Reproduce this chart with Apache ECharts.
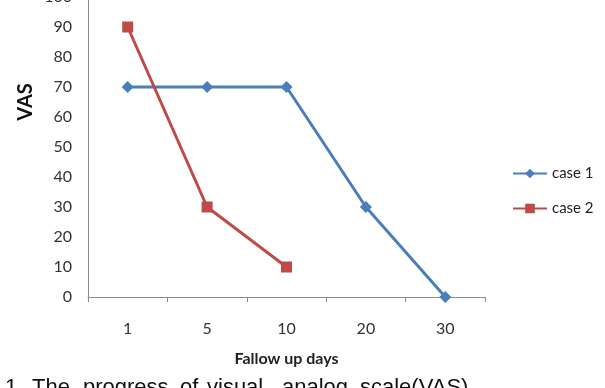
<!DOCTYPE html>
<html><head><meta charset="utf-8">
<script src="https://cdn.jsdelivr.net/npm/echarts@6/dist/echarts.min.js"></script>
<style>html,body{margin:0;padding:0;background:#fff}#c{width:605px;height:388px}</style>
</head><body><div id="c"></div>
<script>
var categories = ['1', '5', '10', '20', '30'];
var case1 = [70, 70, 70, 30, 0];
var case2 = [90, 30, 10, null, null];
var seriesNames = ['case 1', 'case 2'];
var captionWords = ['1.', 'The', 'progress', 'of', 'visual', 'analog', 'scale(VAS)'];
var captionX = [5, 32, 83, 180, 207, 282, 360];

var font = 'Lato, "Open Sans", sans-serif';
var chart = echarts.init(document.getElementById('c'), null, {renderer: 'canvas'});
var graphics = [{
  type: 'text', x: 26, y: 102, rotation: Math.PI / 2,
  style: {text: 'VAS', font: 'bold 20px ' + font, fill: '#111', align: 'center', verticalAlign: 'middle'}
}];
captionWords.forEach(function (w, i) {
  graphics.push({type: 'text', x: captionX[i], y: 377,
    style: {text: w, font: '22px "Liberation Sans", Arial, sans-serif', fill: '#111', align: 'left', verticalAlign: 'top'}});
});
chart.setOption({
  animation: false,
  backgroundColor: '#fff',
  grid: {left: 88, right: 120, height: 300, bottom: 91, containLabel: false, outerBoundsMode: 'none'},
  legend: {
    orient: 'vertical', left: 512, top: 166, padding: 0, itemGap: 20, itemWidth: 34, itemHeight: 12,
    textStyle: {fontFamily: font, fontSize: 15, color: '#222'},
    data: seriesNames
  },
  xAxis: {
    type: 'category', data: categories, boundaryGap: true,
    name: 'Fallow up days', nameLocation: 'middle', nameGap: 54,
    nameTextStyle: {fontFamily: font, fontSize: 16, fontWeight: 'bold', color: '#222'},
    axisLine: {lineStyle: {color: '#8c8c8c', width: 1}},
    axisTick: {show: true, alignWithLabel: false, length: 5, lineStyle: {color: '#8c8c8c'}},
    axisLabel: {fontFamily: font, fontSize: 16, color: '#333', margin: 24},
    splitLine: {show: false}
  },
  yAxis: {
    type: 'value', min: 0, max: 100, interval: 10,
    axisLine: {show: true, lineStyle: {color: '#8c8c8c', width: 1}},
    axisTick: {show: false},
    axisLabel: {fontFamily: font, fontSize: 16, color: '#333', margin: 16},
    splitLine: {show: false}
  },
  series: [{
    name: seriesNames[0], type: 'line', data: case1,
    symbol: 'diamond', symbolSize: 12,
    lineStyle: {color: '#4A7EBB', width: 3},
    itemStyle: {color: '#4A7EBB'}
  }, {
    name: seriesNames[1], type: 'line', data: case2,
    symbol: 'rect', symbolSize: 11,
    lineStyle: {color: '#BE4B48', width: 3},
    itemStyle: {color: '#BE4B48'}
  }],
  graphic: graphics
});
</script></body></html>
